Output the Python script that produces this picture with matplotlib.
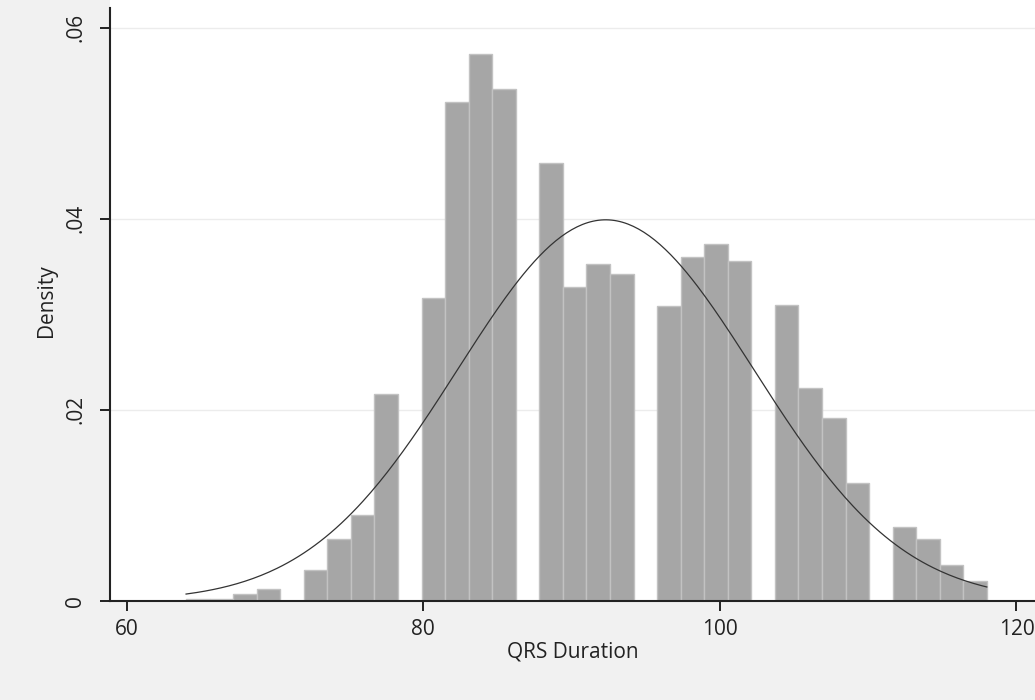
import numpy as np
import matplotlib
matplotlib.use("Agg")
import matplotlib.pyplot as plt

# Histogram of QRS duration (density scale), 34 bins from 64 to 118
x_min = 64
x_max = 118
n_bins = 34
density = [
    0.00024, 0.00024, 0.00073, 0.00122, 0.0, 0.00324, 0.00647, 0.00905,
    0.0217, 0.0, 0.0317, 0.0522, 0.0572, 0.0536, 0.0, 0.0458,
    0.0329, 0.0353, 0.0342, 0.0, 0.0309, 0.0360, 0.0374, 0.0356,
    0.0, 0.0310, 0.0223, 0.0192, 0.0123, 0.0, 0.00778, 0.00653,
    0.00377, 0.00213,
]

# fitted normal overlay
qrs_mean = 92.3
qrs_sd = 10.0

x_ticks = [60, 80, 100, 120]
y_ticks = [0, 0.02, 0.04, 0.06]
y_ticklabels = ["0", ".02", ".04", ".06"]

plt.rcParams["font.family"] = ["Open Sans", "DejaVu Sans"]

fig = plt.figure(figsize=(10.35, 7), dpi=100)
fig.patch.set_facecolor("#f1f1f1")
ax = fig.add_axes([110 / 1035, 99 / 700, 925 / 1035, 601 / 700])
ax.set_facecolor("white")

edges = np.linspace(x_min, x_max, n_bins + 1)
width = edges[1] - edges[0]
heights = np.array(density)
keep = heights > 0
ax.bar(edges[:-1][keep], heights[keep], width=width, align="edge",
       color="#a6a6a6", edgecolor="#c2c2c2", linewidth=1.0, zorder=2)

xs = np.linspace(x_min, x_max, 300)
pdf = np.exp(-0.5 * ((xs - qrs_mean) / qrs_sd) ** 2) / (qrs_sd * np.sqrt(2 * np.pi))
ax.plot(xs, pdf, color="#333333", linewidth=0.9, zorder=3)

ax.set_xlim(58.87, 121.25)
ax.set_ylim(0, 0.0629)

for y in y_ticks[1:]:
    ax.axhline(y, color="#ececec", linewidth=1.0, zorder=1)

ax.set_xticks(x_ticks)
ax.set_yticks(y_ticks)
ax.set_yticklabels(y_ticklabels, rotation=90, va="center")
ax.tick_params(axis="both", direction="out", length=7, width=1.4,
               color="#222222", labelsize=15, labelcolor="#222222")
ax.tick_params(axis="x", pad=6)
ax.tick_params(axis="y", pad=10)

for side in ["top", "right"]:
    ax.spines[side].set_visible(False)
for side in ["left", "bottom"]:
    ax.spines[side].set_color("#222222")
    ax.spines[side].set_linewidth(1.5)
ax.spines["left"].set_bounds(0, 0.0621)

ax.set_xlabel("QRS Duration", fontsize=15, color="#222222", labelpad=1)
ax.set_ylabel("Density", fontsize=15, color="#222222", labelpad=6)

fig.savefig("out.png", dpi=100, facecolor=fig.get_facecolor())
